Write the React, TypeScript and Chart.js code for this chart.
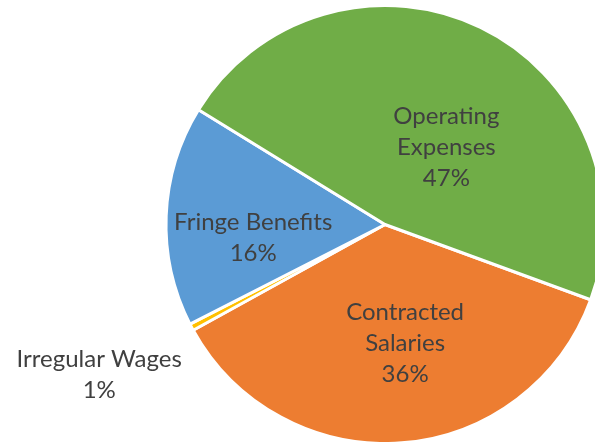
import React, { useEffect, useRef } from "react";
import { Chart, registerables } from "chart.js";

Chart.register(...registerables);

const categories = ["Contracted Salaries", "Irregular Wages", "Fringe Benefits", "Operating Expenses"];
const labelLines = [["Contracted", "Salaries", "36%"], ["Irregular Wages", "1%"], ["Fringe Benefits", "16%"], ["Operating", "Expenses", "47%"]];
const values = [36.4, 0.5, 16.3, 46.8];
const colors = ["#ED7D31", "#FFC000", "#5B9BD5", "#70AD47"];

// label placement: fraction across the slice angle, fraction of radius
const labelAngleFrac = [0.46, 0.6, 0.36, 0.575];
const labelRadiusFrac = [0.55, 1.475, 0.605, 0.45];

const labelPlugin = {
  id: "sliceLabels",
  afterDatasetsDraw(chart: any) {
    const ctx = chart.ctx;
    const meta = chart.getDatasetMeta(0);
    ctx.save();
    ctx.font = "24px Lato";
    ctx.fillStyle = "#404040";
    ctx.textAlign = "center";
    ctx.textBaseline = "middle";
    const lh = 31;
    meta.data.forEach((arc: any, i: number) => {
      const { x, y, startAngle, endAngle, outerRadius } = arc.getProps(["x", "y", "startAngle", "endAngle", "outerRadius"], true);
      const a = startAngle + (endAngle - startAngle) * labelAngleFrac[i];
      const r = outerRadius * labelRadiusFrac[i];
      const cx = x + Math.cos(a) * r;
      const cy = y + Math.sin(a) * r;
      const lines = labelLines[i];
      const y0 = cy - ((lines.length - 1) * lh) / 2;
      lines.forEach((t, j) => ctx.fillText(t, cx, y0 + j * lh));
    });
    ctx.restore();
  },
};

export default function App() {
  const ref = useRef<HTMLCanvasElement>(null);
  useEffect(() => {
    if (!ref.current) return;
    const chart = new Chart(ref.current, {
      type: "pie",
      data: {
        labels: categories,
        datasets: [
          {
            data: values,
            backgroundColor: colors,
            borderColor: "#FFFFFF",
            borderWidth: 3,
            hoverOffset: 0,
          },
        ],
      },
      options: {
        responsive: false,
        animation: false,
        rotation: 110.1,
        radius: 219,
        layout: { padding: { left: 167, right: 97, top: 7, bottom: 0 } },
        plugins: { legend: { display: false }, tooltip: { enabled: false } },
        events: [],
      },
      plugins: [labelPlugin],
    });
    return () => chart.destroy();
  }, []);
  return (
    <div style={{ position: "absolute", left: 0, top: 0, width: 595, height: 442, overflow: "hidden", background: "#fff" }}>
      <canvas ref={ref} width={700} height={442} style={{ display: "block" }} />
    </div>
  );
}
